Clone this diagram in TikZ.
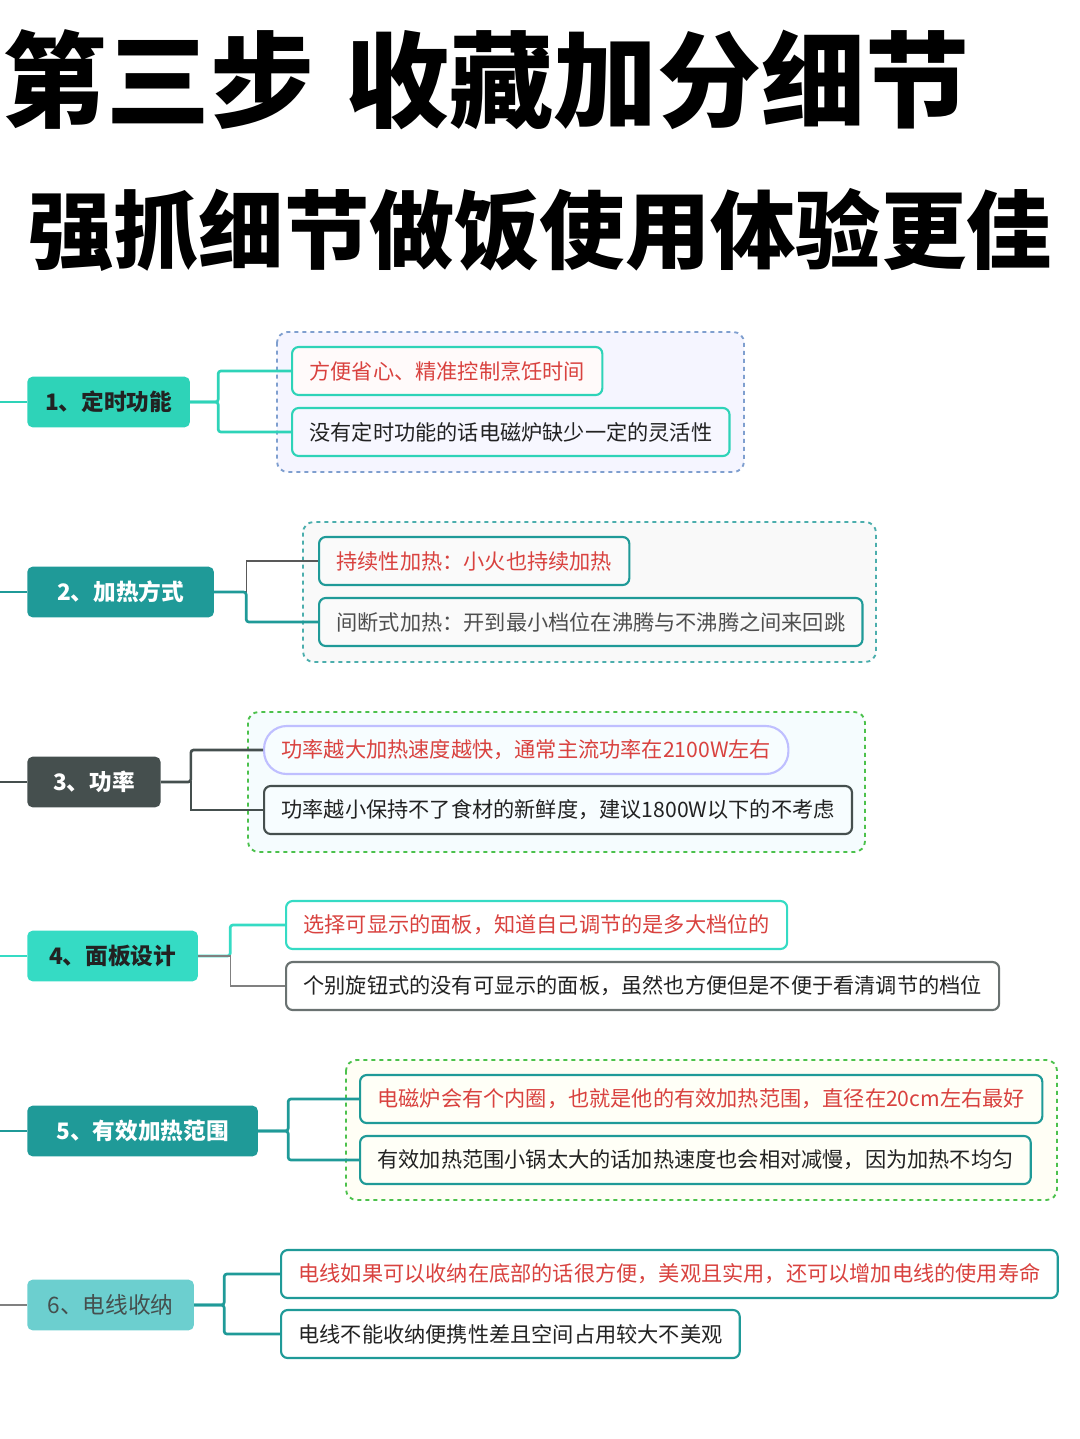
\documentclass[tikz,border=0pt]{standalone}
\usepackage{fontspec}
\setmainfont{Noto Sans CJK SC}
\usetikzlibrary{positioning}
\definecolor{tealA}{HTML}{2ED3B8}
\definecolor{tealB}{HTML}{1F9A98}
\definecolor{slateC}{HTML}{454F4E}
\definecolor{tealD}{HTML}{35DBC4}
\definecolor{tealE}{HTML}{6CCFCF}
\definecolor{redT}{HTML}{D9423F}
\definecolor{darkT}{HTML}{222222}
\definecolor{blueG}{HTML}{7F9FCF}
\begin{document}
\begin{tikzpicture}[x=0.75pt,y=-0.75pt,
  topic/.style = {rectangle, rounded corners=4pt, anchor=west,
    minimum height=38pt, inner xsep=12pt, font=\bfseries\fontsize{17}{20}\selectfont},
  leaf/.style = {rectangle, rounded corners=5pt, draw, line width=1.6pt, anchor=west,
    fill=white, minimum height=36pt, inner xsep=13pt, font=\fontsize{15.9}{18}\selectfont},
  group/.style = {rectangle, rounded corners=8pt, dashed, line width=1.4pt},
  link/.style = {line width=2pt, rounded corners=2pt}]
\useasboundingbox (0,0) rectangle (1080,1439);
% heading
\node (t1) at (486,80) {\bfseries\fontsize{78}{84}\selectfont 第三步\hspace{0.3em}收藏加分细节};
\node (t2) at (540,230) {\bfseries\fontsize{64}{70}\selectfont 强抓细节做饭使用体验更佳};
% group 1
\draw[group, draw=blueG, fill=blue!4] (277,332) rectangle (744,472);
\node[topic, fill=tealA, text=darkT, minimum width=122pt] (m1) at (27,402) {1、定时功能};
\node[leaf, draw=tealA, text=redT, fill=red!2] (a1) at (291,371) {方便省心、精准控制烹饪时间};
\node[leaf, draw=tealA, text=darkT, fill=blue!3] (b1) at (291,432) {没有定时功能的话电磁炉缺少一定的灵活性};
\draw[link, tealA] (0,402) -- (m1.west);
\draw[link, tealA] (m1.east) -- ++(28,0) |- (a1.west);
\draw[link, tealA] (m1.east) -- ++(28,0) |- (b1.west);
% group 2
\draw[group, draw=tealB!80, fill=gray!5] (303,522) rectangle (876,662);
\node[topic, fill=tealB, text=white, minimum width=140pt] (m2) at (27,592) {2、加热方式};
\node[leaf, draw=tealB, text=redT, fill=gray!4] (a2) at (318,561) {持续性加热：小火也持续加热};
\node[leaf, draw=tealB, text=darkT!80, fill=gray!4] (b2) at (318,622) {间断式加热：开到最小档位在沸腾与不沸腾之间来回跳};
\draw[link, tealB] (0,592) -- (m2.west);
\draw[line width=1pt, gray!70!black] (m2.east) -- ++(32,0) |- (a2.west);
\draw[link, tealB] (m2.east) -- ++(32,0) |- (b2.west);
% group 3
\draw[group, draw=green!65!black!70, fill=cyan!4] (248,712) rectangle (865,852);
\node[topic, fill=slateC, text=white, minimum width=100pt] (m3) at (27,782) {3、功率};
\node[leaf, draw=blue!25, text=redT, fill=cyan!3, rounded corners=17pt] (a3) at (263,750) {功率越大加热速度越快，通常主流功率在2100W左右};
\node[leaf, draw=slateC, text=darkT, fill=cyan!3] (b3) at (263,810) {功率越小保持不了食材的新鲜度，建议1800W以下的不考虑};
\draw[link, slateC] (0,782) -- (m3.west);
\draw[link, slateC] (m3.east) -- ++(30,0) |- (a3.west);
\draw[line width=1pt, slateC] (m3.east) -- ++(30,0) |- (b3.west);
% group 4
\node[topic, fill=tealD, text=darkT, minimum width=128pt] (m4) at (27,956) {4、面板设计};
\node[leaf, draw=tealD, text=redT] (a4) at (285,925) {选择可显示的面板，知道自己调节的是多大档位的};
\node[leaf, draw=slateC!80, text=darkT] (b4) at (285,986) {个别旋钮式的没有可显示的面板，虽然也方便但是不便于看清调节的档位};
\draw[link, tealD] (0,956) -- (m4.west);
\draw[link, tealD] (m4.east) -- ++(32,0) |- (a4.west);
\draw[line width=1pt, gray] (m4.east) -- ++(32,0) |- (b4.west);
% group 5
\draw[group, draw=green!65!black!70, fill=yellow!4] (346,1060) rectangle (1057,1200);
\node[topic, fill=tealB, text=white, minimum width=173pt] (m5) at (27,1131) {5、有效加热范围};
\node[leaf, draw=tealB, text=redT, fill=yellow!3] (a5) at (359,1099) {电磁炉会有个内圈，也就是他的有效加热范围，直径在20cm左右最好};
\node[leaf, draw=tealB, text=darkT, fill=yellow!3] (b5) at (359,1160) {有效加热范围小锅太大的话加热速度也会相对减慢，因为加热不均匀};
\draw[link, tealB] (0,1131) -- (m5.west);
\draw[link, tealB] (m5.east) -- ++(30,0) |- (a5.west);
\draw[link, tealB] (m5.east) -- ++(30,0) |- (b5.west);
% group 6
\node[topic, fill=tealE, text=slateC, font=\fontsize{17}{20}\selectfont, minimum width=125pt] (m6) at (27,1305) {6、电线收纳};
\node[leaf, draw=tealB, text=redT] (a6) at (280,1274) {电线如果可以收纳在底部的话很方便，美观且实用，还可以增加电线的使用寿命};
\node[leaf, draw=tealB, text=darkT] (b6) at (280,1334) {电线不能收纳便携性差且空间占用较大不美观};
\draw[line width=1pt, gray] (0,1305) -- (m6.west);
\draw[link, tealB] (m6.east) -- ++(30,0) |- (a6.west);
\draw[link, tealB] (m6.east) -- ++(30,0) |- (b6.west);
\end{tikzpicture}
\end{document}
